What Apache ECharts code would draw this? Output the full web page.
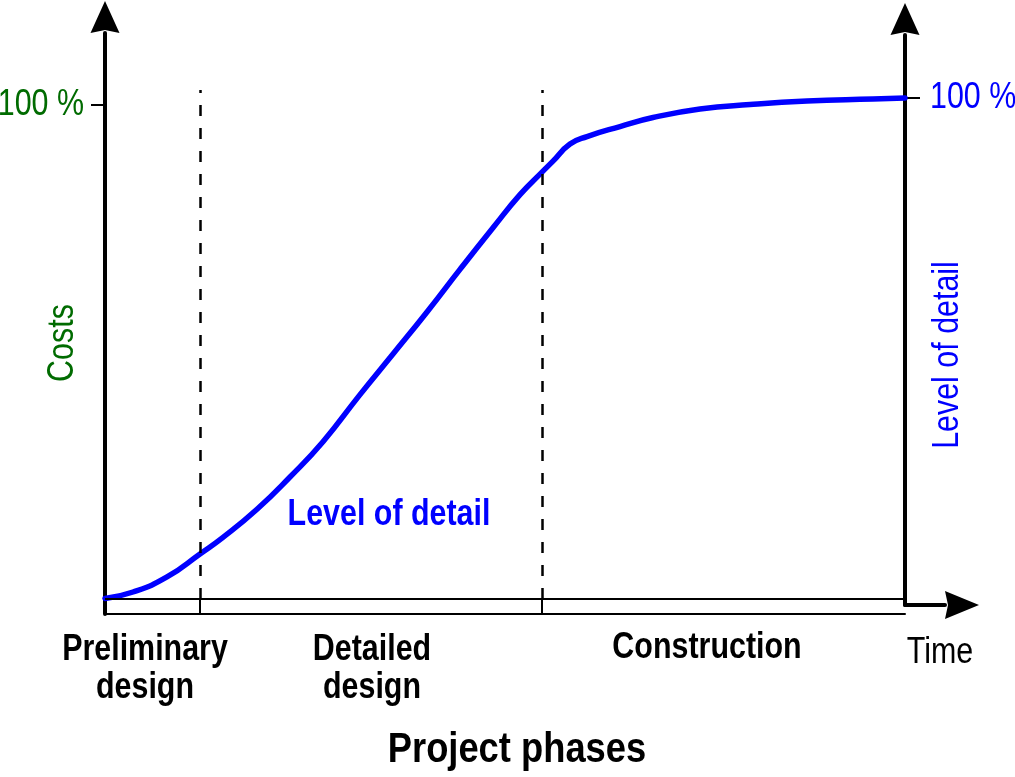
<!DOCTYPE html>
<html><head><meta charset="utf-8">
<script src="https://cdn.jsdelivr.net/npm/echarts@6/dist/echarts.min.js"></script>
<style>html,body{margin:0;padding:0;background:#fff}#c{width:1015px;height:777px}</style>
</head><body><div id="c"></div>
<script>
// ---- data ----
const timePct   = [0, 3.5, 7.75, 11.875, 14.75, 19, 23.125, 27.25, 31.875, 36, 40.25, 44.375, 48.5, 51.875, 54.625, 56, 58.125, 60.25, 64.375, 68.5, 74.375, 80.625, 87.75, 96, 100];
const detailPct = [0.1, 1.4, 4.4, 9.0, 12.3, 17.9, 24.35, 31.4, 40.8, 48.9, 57.3, 65.8, 74.1, 80.7, 85.2, 87.4, 90.8, 92.3, 94.3, 96.1, 97.8, 98.7, 99.4, 99.8, 100];
const phaseNames  = ['Preliminary\ndesign', 'Detailed\ndesign', 'Construction'];
const phaseBounds = [11.9, 54.6];
const tickValues  = [100];
const tickLabel   = '100 %';
const costsName   = 'Costs';
const detailName  = 'Level of detail';
const timeName    = 'Time';
const xTitle      = 'Project phases';
const dashTop     = 101.6;

// ---- layout ----
const W = 1015, H = 777;
const axL = 105, axR = 905;
const zeroY = 599;
const leftHundredY = 105, rightHundredY = 98;
const g0Top = 33, g0Bot = 614;
const g1Top = 35, g1Bot = 605;
const pxL = (zeroY - leftHundredY) / 100;
const pxR = (zeroY - rightHundredY) / 100;
const GREEN = '#006b00', BLUE = '#0000ff';
const FONT = '"Liberation Sans", Arial, sans-serif';
const NARROW = 0.845;

const pts = timePct.map((t, i) => [t, detailPct[i]]);

const arrowY = 'path://M14.5 0 L29 32 L14.5 29 L0 32 Z';
const arrowX = 'path://M14 0 L28 34 L14 31 L0 34 Z';

function txt(text, x, y, opts) {
  return Object.assign({
    type: 'text', x: x, y: y, scaleX: NARROW, scaleY: 1,
    style: Object.assign({text: text, fill: '#000', fontSize: 36, fontFamily: FONT,
      align: 'center', verticalAlign: 'middle'}, opts.style || {})
  }, opts.el || {});
}

const chart = echarts.init(document.getElementById('c'), null, {renderer: 'canvas'});
const gridBase = {containLabel: false, outerBoundsMode: 'none'};
chart.setOption({
  animation: false,
  backgroundColor: '#fff',
  grid: [
    Object.assign({left: axL, right: W - axR, top: g0Top, bottom: H - g0Bot}, gridBase),
    Object.assign({left: axL, right: W - axR, top: g1Top, bottom: H - g1Bot}, gridBase),
    Object.assign({left: axR, right: W - 945, top: 500, bottom: H - g1Bot}, gridBase)
  ],
  xAxis: [
    {gridIndex: 0, type: 'value', min: 0, max: 100,
     axisLine: {show: true, onZero: false, lineStyle: {color: '#000', width: 2}},
     axisTick: {show: true, inside: true, length: g0Bot - zeroY, customValues: phaseBounds, lineStyle: {color: '#000', width: 2}},
     axisLabel: {show: false}, splitLine: {show: false}},
    {gridIndex: 1, type: 'value', min: 0, max: 100, show: false},
    {gridIndex: 2, type: 'value', min: 0, max: 1,
     axisLine: {show: true, onZero: false, symbol: ['none', arrowX], symbolSize: [28, 34], symbolOffset: [0, 17], lineStyle: {color: '#000', width: 4}},
     axisTick: {show: false}, axisLabel: {show: false}, splitLine: {show: false}}
  ],
  yAxis: [
    {gridIndex: 0, type: 'value', position: 'left',
     min: -(g0Bot - zeroY) / pxL, max: 100 + (leftHundredY - g0Top) / pxL,
     axisLine: {show: true, onZero: false, symbol: ['none', arrowY], symbolSize: [29, 32], symbolOffset: [0, 16], lineStyle: {color: '#000', width: 4}},
     axisTick: {show: true, inside: false, length: 14, customValues: tickValues, lineStyle: {color: '#000', width: 2}},
     axisLabel: {show: false}, splitLine: {show: false}},
    {gridIndex: 1, type: 'value', position: 'right',
     min: -(g1Bot - zeroY) / pxR, max: 100 + (rightHundredY - g1Top) / pxR,
     axisLine: {show: true, onZero: false, symbol: ['none', arrowY], symbolSize: [29, 32], symbolOffset: [0, 16], lineStyle: {color: '#000', width: 4}},
     axisTick: {show: true, inside: false, length: 15, customValues: tickValues, lineStyle: {color: '#000', width: 2}},
     axisLabel: {show: false}, splitLine: {show: false}},
    {gridIndex: 2, type: 'value', show: false, min: 0, max: 1}
  ],
  series: [
    {type: 'line', xAxisIndex: 1, yAxisIndex: 1, data: pts, smooth: 0.5, showSymbol: false, z: 3,
     lineStyle: {color: BLUE, width: 5.5, cap: 'round', join: 'round'}},
    {type: 'line', xAxisIndex: 1, yAxisIndex: 1, data: [], z: 5,
     markLine: {silent: true, symbol: 'none', label: {show: false}, animation: false,
       data: [
         {yAxis: 0, lineStyle: {type: 'solid', color: '#000', width: 2}},
         ...phaseBounds.map(b => [{coord: [b, 0]}, {coord: [b, dashTop]}])
       ],
       lineStyle: {type: [11, 12], color: '#000', width: 2.5}}}
  ]
});

// axis tick labels placed at the axes' own pixel for the tick value
const yL = chart.convertToPixel({yAxisIndex: 0}, tickValues[0]);
const yR = chart.convertToPixel({yAxisIndex: 1}, tickValues[0]);
chart.setOption({
  graphic: [
    txt(tickLabel, axL - 21, yL, {style: {fill: GREEN, align: 'right'}}),
    txt(tickLabel, axR + 25, yR, {style: {fill: BLUE, align: 'left'}}),
    txt(costsName, 63, 343, {style: {fill: GREEN}, el: {rotation: Math.PI / 2}}),
    txt(detailName, 948, 355, {style: {fill: BLUE}, el: {rotation: Math.PI / 2}}),
    txt(detailName, 389, 515, {style: {fill: BLUE, fontWeight: 'bold'}}),
    txt(phaseNames[0], 145, 669, {style: {lineHeight: 38, fontWeight: 'bold'}}),
    txt(phaseNames[1], 372, 669, {style: {lineHeight: 38, fontWeight: 'bold'}}),
    txt(phaseNames[2], 707, 648, {style: {fontWeight: 'bold'}}),
    txt(timeName, 940, 653, {}),
    txt(xTitle, 517, 750, {style: {fontSize: 43, fontWeight: 'bold'}})
  ]
});
</script>
</body></html>
